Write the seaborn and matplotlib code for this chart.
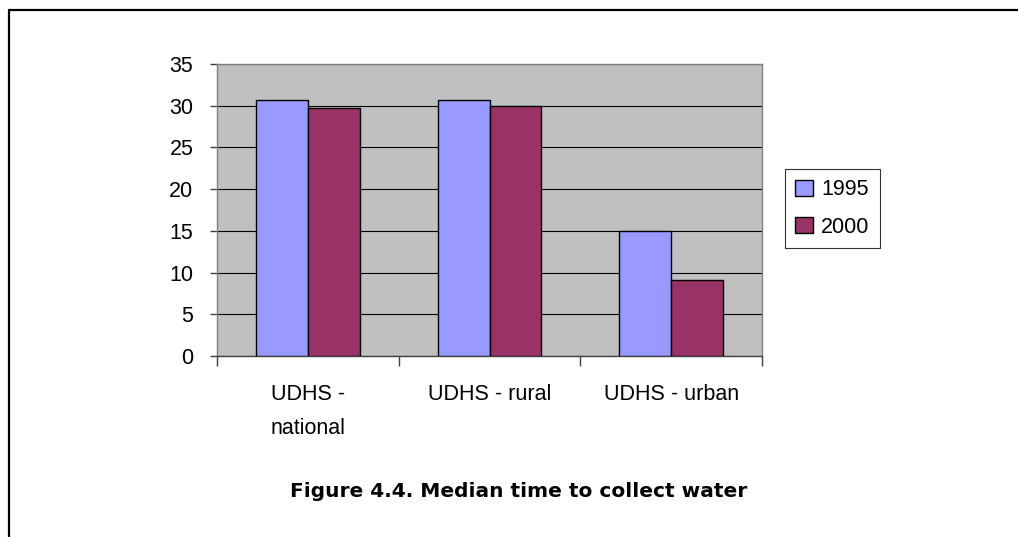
import matplotlib
matplotlib.use("Agg")
import matplotlib.pyplot as plt
from matplotlib.lines import Line2D
import pandas as pd
import seaborn as sns

# 물 긷는 데 걸리는 시간 (중앙값)
categories = ["UDHS - national", "UDHS - rural", "UDHS - urban"]
tick_labels = ["UDHS -\nnational", "UDHS - rural", "UDHS - urban"]
years = ["1995", "2000"]
values_1995 = [30.7, 30.7, 15.0]
values_2000 = [29.7, 30.0, 9.1]
yticks = [0, 5, 10, 15, 20, 25, 30, 35]

df = pd.DataFrame({
    "category": categories * 2,
    "year": [years[0]] * 3 + [years[1]] * 3,
    "minutes": values_1995 + values_2000,
})

sns.set_theme(style="white")
plt.rcParams["font.family"] = ["Liberation Sans", "DejaVu Sans"]
plt.rcParams["text.color"] = "black"
fs = 15.5

fig = plt.figure(figsize=(10.18, 5.37), dpi=100)
ax = fig.add_axes([0.2132, 0.3371, 0.5353, 0.5437])
ax.set_facecolor("#C0C0C0")

sns.barplot(data=df, x="category", y="minutes", hue="year", order=categories,
            hue_order=years, palette=["#9999FF", "#993366"], width=0.57,
            edgecolor="black", linewidth=1.0, saturation=1, ax=ax, zorder=3)

ax.set_xlim(-0.5, 2.5)
ax.set_ylim(0, 35)
ax.set_yticks(yticks)
ax.set_yticklabels([str(v) for v in yticks], fontsize=fs, color="black")
ax.yaxis.grid(True, color="black", linewidth=0.8, zorder=1)
ax.set_axisbelow(True)

# x축: 구간 경계에만 눈금
ax.set_xticks([0, 1, 2])
ax.set_xticklabels(tick_labels, fontsize=fs, color="black", linespacing=1.8)
ax.set_xticks([-0.5, 0.5, 1.5, 2.5], minor=True)
ax.tick_params(axis="x", which="major", length=0, pad=20)
ax.tick_params(axis="x", which="minor", bottom=True, length=7, width=1, color="#404040")
ax.tick_params(axis="y", left=True, length=5, width=1, color="#404040", pad=12)
ax.set_xlabel("")
ax.set_ylabel("")

for side, sp in ax.spines.items():
    sp.set_visible(True)
    sp.set_color("#808080")
    sp.set_linewidth(1.0)
ax.spines["bottom"].set_color("#404040")

handles, labels = ax.get_legend_handles_labels()
if ax.legend_:
    ax.legend_.remove()
leg = fig.legend(handles, labels, loc="center", bbox_to_anchor=(0.8178, 0.6117),
                 fontsize=fs, frameon=True, fancybox=False, edgecolor="black",
                 handlelength=0.8, handleheight=0.8, handletextpad=0.4,
                 labelspacing=0.75, borderpad=0.5, labelcolor="black")
leg.get_frame().set_linewidth(0.8)

fig.text(0.5093, 0.0838, "Figure 4.4. Median time to collect water", ha="center",
         va="center", fontsize=14.5, fontweight="bold", color="black",
         family=["DejaVu Sans"])

# 바깥 테두리 (위, 왼쪽)
fig.add_artist(Line2D([9 / 1018, 9 / 1018], [0, 1 - 10 / 537], color="black", linewidth=1.6))
fig.add_artist(Line2D([9 / 1018, 1], [1 - 10 / 537, 1 - 10 / 537], color="black", linewidth=1.6))

fig.savefig("out.png", dpi=100)
